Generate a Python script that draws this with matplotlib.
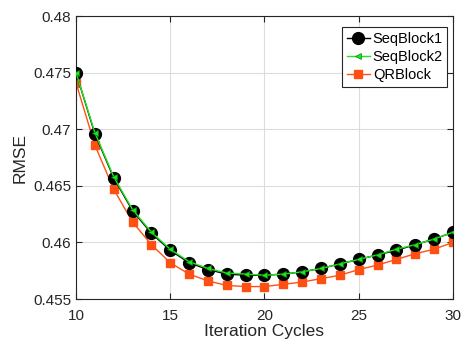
import numpy as np
import matplotlib.pyplot as plt

plt.rcParams['font.family'] = ['Liberation Sans', 'DejaVu Sans']

#-------------
#  Data
#-------------
cycles = np.arange(10, 31)

seq_block1 = [0.4750, 0.4696, 0.4657, 0.4628, 0.4608, 0.4593, 0.4582, 0.4576,
              0.4572, 0.4571, 0.4571, 0.4572, 0.4574, 0.4577, 0.4581, 0.4585,
              0.4589, 0.4593, 0.4598, 0.4603, 0.4609]
seq_block2 = [0.4750, 0.4697, 0.4658, 0.4629, 0.4609, 0.4594, 0.4583, 0.4577,
              0.4573, 0.4572, 0.4571, 0.4572, 0.4574, 0.4577, 0.4581, 0.4585,
              0.4589, 0.4594, 0.4598, 0.4603, 0.4609]
qr_block = [0.4741, 0.4686, 0.4647, 0.4618, 0.4598, 0.4582, 0.4572, 0.4566,
            0.4562, 0.4561, 0.4561, 0.4563, 0.4565, 0.4568, 0.4571, 0.4576,
            0.4580, 0.4585, 0.4590, 0.4594, 0.4600]

#----------
#  PLOT
#----------
axcol = '#262626'
fig = plt.figure(figsize=(4.62, 3.45), dpi=100)
ax = fig.add_axes([0.1645, 0.1333, 0.8160, 0.8203])

ax.plot(cycles, seq_block1, '-o', color='black', lw=1.0, markersize=8.5,
        label='SeqBlock1', zorder=3)
ax.plot(cycles, seq_block2, '-<', color='#1EE61E', mfc='#1EE61E', mec='#0A8A0A',
        mew=0.5, lw=1.0, markersize=5, label='SeqBlock2', zorder=4)
ax.plot(cycles, qr_block, '-s', color='#FF5014', lw=1.0, markersize=6,
        label='QRBlock', zorder=2)

ax.set_xlim(10, 30)
ax.set_ylim(0.455, 0.48)
ax.set_xticks([10, 15, 20, 25, 30])
ax.set_yticks([0.455, 0.46, 0.465, 0.47, 0.475, 0.48])
ax.set_yticklabels(['0.455', '0.46', '0.465', '0.47', '0.475', '0.48'])
ax.set_xlabel('Iteration Cycles', fontsize=12.5, color=axcol, labelpad=1)
ax.set_ylabel('RMSE', fontsize=12.5, color=axcol, labelpad=4)
ax.grid(True, color='#dcdcdc', lw=0.8)
ax.set_axisbelow(True)
ax.tick_params(direction='in', labelsize=11, colors=axcol, top=True, right=True,
               length=4, width=0.8)
ax.tick_params(axis='x', pad=7)
for s in ax.spines.values():
    s.set_color(axcol)
    s.set_linewidth(0.8)

leg = ax.legend(loc='upper right', bbox_to_anchor=(0.985, 0.96), fontsize=10.5,
                fancybox=False, framealpha=1, edgecolor=axcol,
                handlelength=1.6, handletextpad=0.2, borderpad=0.3,
                labelspacing=0.3, borderaxespad=0)
leg.get_frame().set_linewidth(0.8)

fig.savefig('out.png', dpi=100)
